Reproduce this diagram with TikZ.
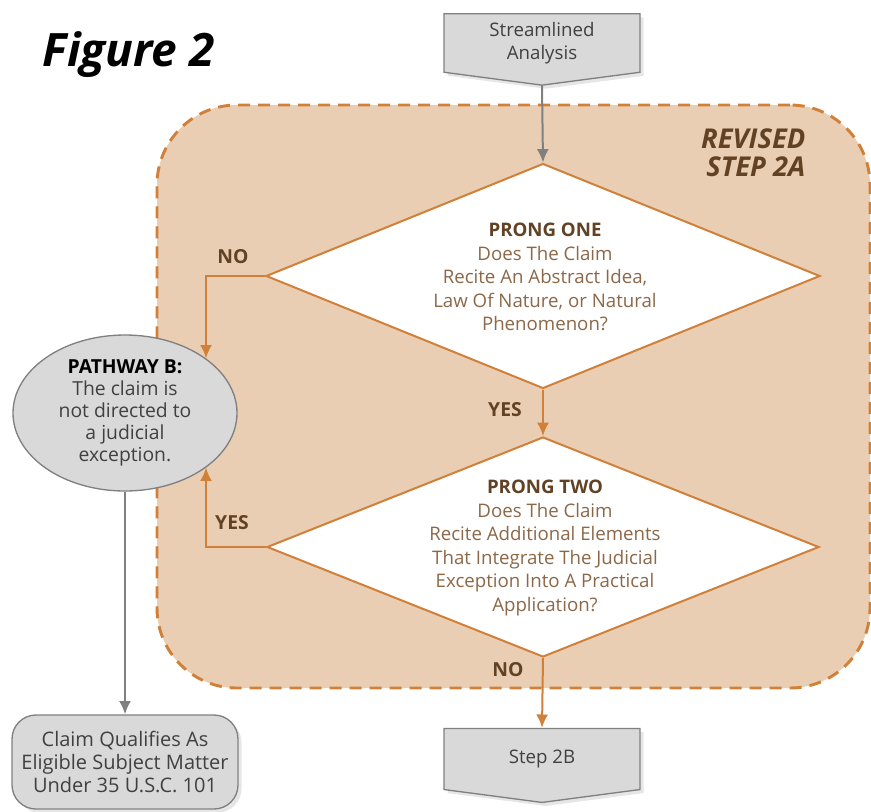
\documentclass[tikz,border=0pt]{standalone}
\usepackage{fontspec}
\setmainfont{Open Sans}
\usetikzlibrary{shapes,arrows.meta,shadows}
\usetikzlibrary{positioning}

\definecolor{peach}{RGB}{234,206,179}
\definecolor{rust}{RGB}{208,128,56}
\definecolor{darkbrown}{RGB}{98,66,36}
\definecolor{lightbrown}{RGB}{140,104,72}
\definecolor{boxgray}{RGB}{217,217,217}
\definecolor{edgegray}{RGB}{128,128,128}
\definecolor{txtgray}{RGB}{64,64,64}

\begin{document}
\begin{tikzpicture}[x=0.75pt,y=-0.75pt,
  >={Latex[length=10pt,width=9pt]},
  region/.style={rectangle, draw=rust, fill=peach, line width=2.2pt,
    dash pattern=on 9pt off 6pt, rounded corners=60pt},
  prong/.style={diamond, draw=rust, fill=white, line width=1.5pt, inner sep=0pt},
  prongtext/.style={align=center, text=lightbrown, font=\fontsize{14}{17.6}\selectfont},
  offpage/.style={signal, signal to=south, signal from=nowhere, signal pointer angle=165,
    draw=edgegray, fill=boxgray, line width=1pt, text=txtgray, align=center,
    font=\fontsize{14}{17.3}\selectfont, drop shadow={opacity=0.2}},
  pathway/.style={ellipse, draw=edgegray, fill=boxgray, line width=1pt, inner sep=0pt,
    text=txtgray, align=center, font=\fontsize{14.5}{16.5}\selectfont,
    minimum width=168pt, minimum height=117pt},
  endbox/.style={rectangle, rounded corners=18pt, draw=edgegray, fill=boxgray,
    line width=1pt, text=txtgray, align=center, font=\fontsize{15}{16.9}\selectfont,
    minimum width=169.5pt, minimum height=70.5pt, drop shadow={opacity=0.2}},
  yn/.style={text=darkbrown, font=\fontsize{14.5}{16}\selectfont\bfseries},
  oline/.style={draw=rust, line width=1.5pt},
  gline/.style={draw=edgegray, line width=1.5pt}]
\useasboundingbox (0,0) rectangle (871,811);

% revised step 2a area
\node[region, minimum width=534.75pt, minimum height=437.25pt] (step2a) at (513.5,396.5) {};
\node[anchor=east, align=right, text=darkbrown,
  font=\fontsize{20.5}{21}\selectfont\bfseries\itshape] (revised) at (810,153) {REVISED\\STEP 2A};
\node[anchor=base west, font=\fontsize{34.5}{36}\selectfont\bfseries\itshape] (figlabel) at (38,66) {Figure 2};

% boxes
\node[offpage, minimum width=147pt, minimum height=49.5pt] (stream) at (542,43) {Streamlined\\Analysis};
\node[prong, minimum width=415.5pt, minimum height=168.75pt] (prong1) at (543,276) {};
\node[prongtext] (prong1text) at (545,277)
  {\textcolor{darkbrown}{\bfseries PRONG ONE}\\Does The Claim\\Recite An Abstract Idea,\\Law Of Nature, or Natural\\Phenomenon?};
\node[prong, minimum width=414pt, minimum height=165pt] (prong2) at (543,547) {};
\node[prongtext] (prong2text) at (545,548)
  {\textcolor{darkbrown}{\bfseries PRONG TWO}\\Does The Claim\\Recite Additional Elements\\That Integrate The Judicial\\Exception Into A Practical\\Application?};
\node[pathway] (pathb) at (125,413)
  {\textcolor{black}{\bfseries PATHWAY B:}\\The claim is\\not directed to\\a judicial\\exception.};
\node[offpage, minimum width=147pt, minimum height=49.5pt] (step2b) at (542,759) {Step 2B};
\node[endbox] (qualify) at (125,762) {Claim Qualifies As\\Eligible Subject Matter\\Under 35 U.S.C. 101};

% connectors
\draw[gline,->] (stream.south) -- (prong1.north);
\draw[oline,->] (prong1.south) -- (prong2.north);
\draw[oline,->] (prong2.south) -- (step2b.north);
\draw[oline,->] (prong1.west) -| (pathb.34);
\draw[oline,->] (prong2.west) -| (pathb.-34);
\draw[gline,->] (pathb.south) -- (qualify.north);

% yes / no labels
\node[yn] (no1) at (233,257) {NO};
\node[yn] (yes1) at (505,410) {YES};
\node[yn] (yes2) at (232,523) {YES};
\node[yn] (no2) at (508,670) {NO};
\end{tikzpicture}
\end{document}
